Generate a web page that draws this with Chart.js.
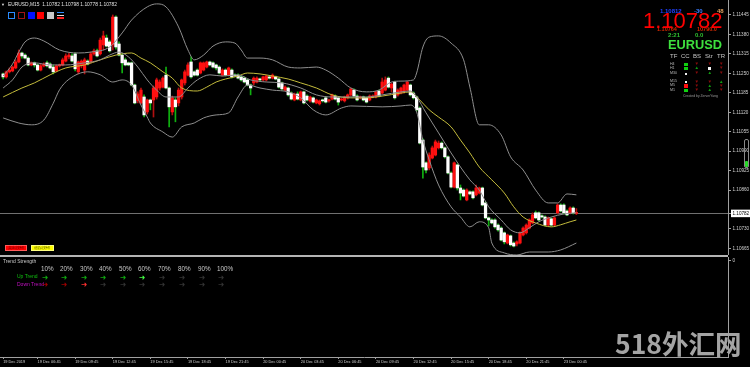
<!DOCTYPE html>
<html><head><meta charset="utf-8">
<script src="https://cdn.jsdelivr.net/npm/chart.js@4/dist/chart.umd.min.js"></script>
<style>
html,body{margin:0;padding:0;background:#000;}
#wrap{position:relative;width:750px;height:367px;overflow:hidden;background:#000;font-family:"Liberation Sans",Arial,sans-serif;}
.t{position:absolute;white-space:nowrap;line-height:1;}
.b{position:absolute;box-sizing:border-box;}
canvas{position:absolute;left:0;}
</style></head><body><div id="wrap">
<canvas id="c1" width="750" height="255" style="top:0"></canvas>
<div class="b" style="left:0;top:255px;width:728px;height:2px;background:#b4b4b4"></div>
<canvas id="c2" width="750" height="110" style="top:257px"></canvas>

<!-- top-left header -->
<div class="t" style="left:1px;top:3px;font-size:4px;color:#ddd">▼</div>
<div class="t" style="left:8px;top:3px;font-size:4.9px;color:#e0e0e0">EURUSD,M15&nbsp; 1.10782 1.10798 1.10778 1.10782</div>
<div class="b" style="left:8px;top:12px;width:7px;height:7px;border:1px solid #2a8cff"></div>
<div class="b" style="left:18px;top:12px;width:7px;height:7px;border:1px solid #a01414"></div>
<div class="b" style="left:28px;top:12px;width:7px;height:7px;background:#0010ff"></div>
<div class="b" style="left:37px;top:12px;width:7px;height:7px;background:#ff0000"></div>
<div class="b" style="left:47px;top:12px;width:7px;height:7px;background:#c8c8c8"></div>
<div class="b" style="left:57px;top:12px;width:7px;height:1px;background:#2a8cff"></div>
<div class="b" style="left:57px;top:15px;width:7px;height:1px;background:#dddddd"></div>
<div class="b" style="left:57px;top:17px;width:7px;height:2px;background:#ff2020"></div>

<!-- top-right panel -->
<div class="t" style="left:660px;top:8px;font-size:6px;font-weight:bold;color:#2040ff">1.10812</div>
<div class="t" style="left:694px;top:8px;font-size:6px;font-weight:bold;color:#3a7cff">-30</div>
<div class="t" style="left:717px;top:8px;font-size:6px;font-weight:bold;color:#e0a060">48</div>
<div class="t" style="left:657px;top:27px;font-size:5.5px;font-weight:bold;color:#d42a00">1.10764</div>
<div class="t" style="left:697px;top:27px;font-size:5.5px;font-weight:bold;color:#d42a00">10790.0</div>
<div class="t" style="left:643px;top:10px;font-size:22px;color:#ff0000;line-height:22px">1.10782</div>
<div class="t" style="left:668px;top:32px;font-size:6px;font-weight:bold;color:#30c030">2:21</div>
<div class="t" style="left:695px;top:32px;font-size:6px;font-weight:bold;color:#30c030">0.0</div>
<div class="t" style="left:668px;top:39px;font-size:12.8px;font-weight:bold;color:#3ee03e">EURUSD</div>
<div class="t" style="left:670px;top:53px;font-size:6px;color:#c8c8c8">TF</div>
<div class="t" style="left:681px;top:53px;font-size:6px;color:#c8c8c8">CC</div>
<div class="t" style="left:693px;top:53px;font-size:6px;color:#c8c8c8">BS</div>
<div class="t" style="left:705px;top:53px;font-size:6px;color:#c8c8c8">Str</div>
<div class="t" style="left:717px;top:53px;font-size:6px;color:#c8c8c8">TR</div>
<div class="t" style="left:683px;top:94.5px;font-size:3.4px;color:#9a9a9a">Created by ZerverYang</div>

<!-- right gauge -->
<div class="b" style="left:744px;top:139px;width:5px;height:29px;border:1px solid #8a8a8a;border-radius:2px"></div>
<div class="b" style="left:745px;top:161px;width:3px;height:6px;background:#28d828;border-radius:1px"></div>

<!-- bottom-left buttons -->
<div class="b" style="left:5px;top:245px;width:22px;height:6px;background:#ff0000;border:1px solid #ff5a5a"></div>
<div class="t" style="left:8px;top:246px;font-size:4px;color:#700000">卖出按钮</div>
<div class="b" style="left:31px;top:245px;width:23px;height:6px;background:#ffff00;border:1px solid #ffff80"></div>
<div class="t" style="left:34px;top:246px;font-size:4px;color:#606000">追踪按钮</div>

<!-- sub window texts -->
<div class="t" style="left:3px;top:259px;font-size:5px;color:#c8c8c8">Trend Strength</div>
<div class="t" style="left:17px;top:274px;font-size:5px;color:#10c010">Up Trend</div>
<div class="t" style="left:17px;top:282px;font-size:5px;color:#c010c0">Down Trend</div>

<!-- watermark -->
<div class="t" style="left:615px;top:327px;font-size:26.5px;line-height:32px;font-weight:bold;color:#a4a4a4;font-family:'Noto Sans CJK SC',sans-serif">518外汇网</div>
</div>
<script>
// ---------------- data ----------------
const barIndex = Array.from({length:184},(_, i)=>i);
const opens = [1.11248,1.11238,1.11255,1.11258,1.11268,1.11288,1.11318,1.11311,1.11301,1.11278,
1.11285,1.11278,1.11261,1.11275,1.11285,1.11281,1.11271,1.11258,1.11275,1.11278,
1.11291,1.11305,1.11308,1.11315,1.11255,1.11275,1.11261,1.11291,1.11288,1.11315,
1.11325,1.11315,1.11345,1.11368,1.11355,1.11345,1.11438,1.11348,1.11311,1.11295,
1.11285,1.11285,1.11211,1.11158,1.11151,1.11171,1.11121,1.11161,1.11161,1.11171,
1.11201,1.11204,1.11244,1.11201,1.11121,1.11161,1.11151,1.11171,1.11218,1.11244,
1.11288,1.11255,1.11261,1.11251,1.11261,1.11271,1.11288,1.11285,1.11278,1.11271,
1.11244,1.11261,1.11244,1.11261,1.11244,1.11244,1.11238,1.11234,1.11228,1.11211,
1.11218,1.11221,1.11231,1.11228,1.11228,1.11238,1.11234,1.11238,1.11231,1.11218,
1.11194,1.11201,1.11184,1.11161,1.11181,1.11161,1.11188,1.11174,1.11158,1.11168,
1.11151,1.11148,1.11161,1.11168,1.11158,1.11164,1.11174,1.11168,1.11161,1.11158,
1.11168,1.11178,1.11194,1.11174,1.11168,1.11171,1.11168,1.11161,1.11171,1.11171,
1.11191,1.11184,1.11194,1.11234,1.11201,1.11221,1.11178,1.11184,1.11188,1.11194,
1.11211,1.11184,1.11171,1.11134,1.11027,1.10951,1.10934,1.10967,1.10977,1.11001,
1.11017,1.11001,1.10971,1.10917,1.10870,1.10944,1.10867,1.10860,1.10827,1.10854,
1.10854,1.10844,1.10850,1.10867,1.10817,1.10767,1.10760,1.10760,1.10743,1.10733,
1.10717,1.10683,1.10707,1.10683,1.10680,1.10683,1.10710,1.10717,1.10733,1.10750,
1.10784,1.10784,1.10774,1.10770,1.10743,1.10764,1.10743,1.10784,1.10810,1.10810,
1.10790,1.10784,1.10800,1.10782];
const highs = [1.11251,1.11258,1.11268,1.11275,1.11295,1.11328,1.11321,1.11315,1.11305,1.11288,
1.11288,1.11281,1.11281,1.11285,1.11291,1.11285,1.11278,1.11278,1.11281,1.11301,
1.11315,1.11318,1.11315,1.11318,1.11291,1.11295,1.11301,1.11295,1.11321,1.11331,
1.11331,1.11368,1.11391,1.11378,1.11361,1.11445,1.11442,1.11355,1.11315,1.11301,
1.11288,1.11288,1.11214,1.11188,1.11201,1.11178,1.11164,1.11164,1.11208,1.11234,
1.11228,1.11238,1.11271,1.11204,1.11174,1.11168,1.11201,1.11231,1.11261,1.11285,
1.11305,1.11258,1.11265,1.11288,1.11288,1.11291,1.11291,1.11288,1.11281,1.11275,
1.11265,1.11265,1.11271,1.11265,1.11248,1.11248,1.11241,1.11238,1.11231,1.11214,
1.11238,1.11238,1.11234,1.11241,1.11244,1.11241,1.11248,1.11241,1.11234,1.11221,
1.11208,1.11204,1.11188,1.11184,1.11188,1.11191,1.11191,1.11178,1.11174,1.11171,
1.11164,1.11161,1.11164,1.11171,1.11164,1.11181,1.11178,1.11171,1.11168,1.11174,
1.11181,1.11201,1.11198,1.11178,1.11174,1.11174,1.11171,1.11178,1.11178,1.11191,
1.11194,1.11234,1.11238,1.11238,1.11218,1.11224,1.11198,1.11204,1.11214,1.11224,
1.11214,1.11188,1.11174,1.11138,1.11031,1.10954,1.10984,1.11007,1.11027,1.11024,
1.11021,1.11004,1.10974,1.10921,1.10954,1.10947,1.10877,1.10864,1.10864,1.10857,
1.10857,1.10877,1.10870,1.10870,1.10820,1.10770,1.10764,1.10764,1.10747,1.10737,
1.10720,1.10713,1.10710,1.10687,1.10690,1.10720,1.10737,1.10747,1.10764,1.10784,
1.10790,1.10787,1.10777,1.10774,1.10770,1.10767,1.10770,1.10814,1.10814,1.10814,
1.10794,1.10804,1.10804,1.10798];
const lows = [1.11231,1.11234,1.11251,1.11255,1.11265,1.11285,1.11301,1.11298,1.11275,1.11275,
1.11271,1.11258,1.11258,1.11271,1.11271,1.11265,1.11248,1.11255,1.11271,1.11275,
1.11288,1.11298,1.11288,1.11258,1.11248,1.11268,1.11248,1.11278,1.11285,1.11311,
1.11305,1.11311,1.11328,1.11338,1.11321,1.11328,1.11331,1.11308,1.11251,1.11275,
1.11275,1.11208,1.11148,1.11151,1.11148,1.11104,1.11114,1.11128,1.11104,1.11164,
1.11194,1.11201,1.11198,1.11071,1.11111,1.11088,1.11141,1.11164,1.11211,1.11241,
1.11234,1.11241,1.11241,1.11248,1.11258,1.11268,1.11275,1.11268,1.11261,1.11248,
1.11241,1.11241,1.11241,1.11234,1.11238,1.11231,1.11224,1.11218,1.11208,1.11178,
1.11211,1.11218,1.11224,1.11224,1.11224,1.11231,1.11231,1.11228,1.11201,1.11194,
1.11191,1.11174,1.11161,1.11158,1.11161,1.11158,1.11148,1.11158,1.11154,1.11151,
1.11148,1.11144,1.11154,1.11151,1.11154,1.11161,1.11161,1.11144,1.11158,1.11154,
1.11164,1.11174,1.11171,1.11158,1.11164,1.11158,1.11151,1.11158,1.11168,1.11168,
1.11171,1.11181,1.11191,1.11201,1.11188,1.11164,1.11174,1.11181,1.11184,1.11191,
1.11174,1.11164,1.11124,1.11014,1.10900,1.10917,1.10927,1.10964,1.10974,1.10997,
1.10997,1.10967,1.10914,1.10867,1.10867,1.10860,1.10827,1.10837,1.10824,1.10844,
1.10830,1.10840,1.10847,1.10807,1.10764,1.10740,1.10747,1.10733,1.10723,1.10690,
1.10680,1.10680,1.10673,1.10670,1.10673,1.10680,1.10707,1.10713,1.10730,1.10747,
1.10764,1.10757,1.10767,1.10740,1.10740,1.10740,1.10740,1.10780,1.10787,1.10780,
1.10774,1.10780,1.10780,1.10778];
const closes = [1.11238,1.11255,1.11261,1.11271,1.11288,1.11318,1.11308,1.11301,1.11278,1.11285,
1.11278,1.11261,1.11275,1.11281,1.11275,1.11268,1.11255,1.11275,1.11278,1.11295,
1.11308,1.11311,1.11291,1.11265,1.11288,1.11291,1.11295,1.11281,1.11315,1.11325,
1.11308,1.11361,1.11375,1.11341,1.11325,1.11438,1.11338,1.11311,1.11285,1.11278,
1.11278,1.11211,1.11151,1.11181,1.11194,1.11111,1.11161,1.11151,1.11201,1.11228,
1.11221,1.11234,1.11201,1.11138,1.11168,1.11138,1.11194,1.11228,1.11255,1.11278,
1.11238,1.11244,1.11244,1.11285,1.11285,1.11288,1.11278,1.11271,1.11268,1.11251,
1.11261,1.11244,1.11268,1.11238,1.11241,1.11234,1.11228,1.11221,1.11211,1.11201,
1.11234,1.11234,1.11228,1.11238,1.11241,1.11234,1.11244,1.11231,1.11204,1.11198,
1.11204,1.11178,1.11164,1.11181,1.11164,1.11188,1.11151,1.11161,1.11171,1.11154,
1.11161,1.11158,1.11158,1.11154,1.11161,1.11178,1.11164,1.11154,1.11164,1.11171,
1.11178,1.11198,1.11174,1.11161,1.11171,1.11161,1.11154,1.11174,1.11174,1.11188,
1.11174,1.11221,1.11228,1.11204,1.11214,1.11168,1.11194,1.11201,1.11211,1.11221,
1.11178,1.11168,1.11128,1.11017,1.10937,1.10927,1.10977,1.11001,1.11021,1.11017,
1.11001,1.10971,1.10917,1.10870,1.10951,1.10867,1.10850,1.10840,1.10860,1.10847,
1.10834,1.10867,1.10867,1.10810,1.10767,1.10760,1.10750,1.10737,1.10727,1.10693,
1.10687,1.10710,1.10677,1.10673,1.10687,1.10717,1.10733,1.10743,1.10760,1.10777,
1.10767,1.10760,1.10770,1.10743,1.10767,1.10743,1.10767,1.10810,1.10790,1.10784,
1.10777,1.10800,1.10784,1.10782];

// Bollinger upper / lower, middle (yellow) and fast MA (gray), read at sampled bars
const upperX = [0,3,5,7,10,13,18,24,28,34,38,41,46,49,52,56,59,61,64,67,71,74,76,78,82,86,91,95,100,103,107,111,116,120,124,127,131,132,134,136,139,143,147,149,152,155,159,162,166,170,174,177,180,183];
const upperY = [1.11241,1.11281,1.11321,1.11355,1.11368,1.11358,1.11328,1.11318,1.11321,1.11338,1.11385,1.11428,1.11472,1.11482,1.11472,1.11405,1.11328,1.11295,1.11311,1.11341,1.11355,1.11351,1.11328,1.11301,1.11301,1.11295,1.11271,1.11268,1.11271,1.11261,1.11234,1.11201,1.11188,1.11194,1.11221,1.11224,1.11228,1.11251,1.11338,1.11371,1.11375,1.11351,1.11295,1.11204,1.11078,1.11078,1.11044,1.10971,1.10927,1.10860,1.10817,1.10817,1.10847,1.10844];
const lowerX = [0,5,9,13,16,18,21,27,31,35,38,41,44,46,47,51,54,57,61,64,68,72,75,78,82,86,91,95,99,103,108,111,121,127,130,132,134,136,139,143,146,149,152,155,156,160,164,168,174,178,183];
const lowerY = [1.11101,1.11084,1.11078,1.11094,1.11150,1.11195,1.11230,1.11255,1.11245,1.11221,1.11228,1.11211,1.11144,1.11104,1.11084,1.11054,1.11037,1.11071,1.11084,1.11101,1.11111,1.11118,1.11171,1.11211,1.11201,1.11194,1.11188,1.11168,1.11128,1.11111,1.11134,1.11141,1.11138,1.11141,1.11144,1.11121,1.11027,1.10961,1.10877,1.10804,1.10770,1.10737,1.10754,1.10734,1.10683,1.10650,1.10643,1.10653,1.10653,1.10660,1.10683];
const middleX = [0,6,10,15,20,26,31,36,41,44,47,51,54,57,62,65,68,71,75,78,82,86,91,95,100,105,111,116,121,127,130,133,136,139,143,146,149,152,156,160,163,166,170,175,178,181,183];
const middleY = [1.11171,1.11201,1.11218,1.11245,1.11268,1.11278,1.11295,1.11311,1.11318,1.11301,1.11285,1.11255,1.11234,1.11201,1.11191,1.11204,1.11221,1.11231,1.11241,1.11251,1.11248,1.11241,1.11231,1.11218,1.11201,1.11178,1.11168,1.11168,1.11174,1.11184,1.11188,1.11161,1.11128,1.11104,1.11071,1.11027,1.10984,1.10937,1.10894,1.10850,1.10804,1.10770,1.10750,1.10737,1.10744,1.10754,1.10760];
const fastX = [0,3,6,10,15,20,26,31,34,37,40,43,46,49,52,56,59,62,66,70,75,79,84,89,95,100,105,111,116,121,127,130,132,135,139,143,146,149,152,155,159,162,165,168,171,175,179,183];
const fastY = [1.11201,1.11228,1.11271,1.11285,1.11278,1.11278,1.11285,1.11295,1.11311,1.11321,1.11305,1.11271,1.11228,1.11194,1.11171,1.11171,1.11201,1.11228,1.11245,1.11241,1.11245,1.11228,1.11221,1.11218,1.11201,1.11178,1.11171,1.11171,1.11171,1.11178,1.11188,1.11191,1.11171,1.11118,1.11051,1.10984,1.10937,1.10894,1.10860,1.10804,1.10760,1.10727,1.10717,1.10734,1.10754,1.10770,1.10780,1.10784];

const bidPrice = 1.10782;
const yTickValues = [1.11445,1.11380,1.11315,1.11250,1.11185,1.11120,1.11055,1.10990,1.10925,1.10860,1.10730,1.10665];
const timeTickIndex = [0,11,23,35,47,59,71,83,95,107,119,131,143,155,167,179];
const timeTickLabels = ['19 Dec 2019','19 Dec 06:45','19 Dec 09:45','19 Dec 12:45','19 Dec 15:45','19 Dec 18:45','19 Dec 21:45','20 Dec 00:45','20 Dec 03:45','20 Dec 06:45','20 Dec 09:45','20 Dec 12:45','20 Dec 15:45','20 Dec 18:45','20 Dec 21:45','23 Dec 00:45'];

const strengthLabels = ['10%','20%','30%','40%','50%','60%','70%','80%','90%','100%'];
const upTrendLevel = 6;   // arrows lit in the up row
const downTrendLevel = 3; // arrows lit in the down row

const tfRows = ['H4','H1','M30','M15','M5','M1'];
const ccCol  = ['g','g','w','w','r','g'];
const bsCol  = ['d','u','d','d','d','d'];
const strCol = ['d','s','u','d','u','u'];
const trCol  = ['d','d','d','u','d','d'];

// ---------------- overlays ----------------
(function(){
  const wrap = document.getElementById('wrap');
  const rowTop = [62.5,66.8,71.8,80.3,84.3,88.6];
  function add(html){ wrap.insertAdjacentHTML('beforeend', html); }
  tfRows.forEach((r,k)=>{
    const top = rowTop[k];
    add(`<div class="t" style="left:670px;top:${top}px;font-size:3.6px;color:#b8b8b8">${r}</div>`);
    const c = ccCol[k];
    if (c==='g') add(`<div class="b" style="left:684px;top:${top}px;width:3.5px;height:3.5px;background:#10d010"></div>`);
    else if (c==='r') add(`<div class="b" style="left:684px;top:${top}px;width:3.5px;height:3.5px;background:#ff1010"></div>`);
    else add(`<div class="b" style="left:684.8px;top:${top+0.8}px;width:2px;height:2px;background:#f0f0f0"></div>`);
    [[bsCol,695],[strCol,708],[trCol,719.5]].forEach(([col,x])=>{
      const v = col[k];
      if (v==='s') add(`<div class="b" style="left:${x}px;top:${top+0.5}px;width:2.5px;height:2.5px;background:#f4f4f4"></div>`);
      else {
        const ch = v==='u' ? '▲' : '▼';
        const clr = v==='u' ? '#10a010' : '#8c0c0c';
        add(`<div class="t" style="left:${x-0.5}px;top:${top-0.5}px;font-size:4.5px;color:${clr}">${ch}</div>`);
      }
    });
  });
  const px = [41,60,80,99,119,138,158,178,198,217];
  strengthLabels.forEach((s,k)=>{
    add(`<div class="t" style="left:${px[k]}px;top:266px;font-size:6.3px;color:#c8c8c8">${s}</div>`);
    const upC = k < upTrendLevel ? (k===upTrendLevel-1 ? '#44ff44' : '#10a810') : '#333333';
    const dnC = k < downTrendLevel ? (k===downTrendLevel-1 ? '#ff3030' : '#a00000') : '#333333';
    add(`<div class="t" style="left:${px[k]+1}px;top:273.5px;font-size:7.5px;font-weight:bold;font-family:'DejaVu Sans';color:${upC}">➜</div>`);
    add(`<div class="t" style="left:${px[k]+1}px;top:281px;font-size:7.5px;font-weight:bold;font-family:'DejaVu Sans';color:${dnC}">➜</div>`);
  });
})();

// ---------------- charts ----------------
Chart.defaults.font.family = "'Liberation Sans', Arial, sans-serif";
const BULL='#ff1010', BEAR='#ffffff', BULLW='#b01010', BEARW='#10b010', GRAY='#8e8e8e', AXIS='#a0a0a0';
const isBull = i => closes[i] >= opens[i];
const pts = (xs, ys) => xs.map((x,k)=>({x:x, y:ys[k]}));
const lineDs = (label, data, color) => ({type:'line', label, data, borderColor:color, borderWidth:1, pointRadius:0, cubicInterpolationMode:'monotone', order:1});

new Chart(document.getElementById('c1'), {
  type:'bar',
  data:{datasets:[
    lineDs('Upper band', pts(upperX, upperY), GRAY),
    lineDs('Lower band', pts(lowerX, lowerY), GRAY),
    lineDs('Fast MA', pts(fastX, fastY), GRAY),
    lineDs('Middle band', pts(middleX, middleY), '#c4bc3c'),
    {label:'Wicks', data: barIndex.map(i=>({x:i, y:[lows[i], highs[i]]})), grouped:false, barThickness:1,
     backgroundColor: c => isBull(c.dataIndex) ? BULLW : BEARW, order:3},
    {label:'Bodies', data: barIndex.map(i=>({x:i, y:[opens[i], closes[i]]})), grouped:false, barThickness:2.6, minBarLength:1,
     backgroundColor: c => isBull(c.dataIndex) ? BULL : BEAR, order:2}
  ]},
  options:{
    responsive:false, animation:false, events:[],
    layout:{padding:0},
    plugins:{legend:{display:false}, tooltip:{enabled:false}},
    scales:{
      x:{type:'linear', min:-1, max:231.4, display:false, offset:false},
      y:{position:'right', min:1.10643, max:1.11495,
        afterBuildTicks: s => { s.ticks = yTickValues.concat([bidPrice]).map(v=>({value:v})); },
        afterFit: s => { s.width = 22; s.paddingTop = 0; s.paddingBottom = 0; },
        ticks:{ font:{size:4.6}, padding:1.5, callback: v => v.toFixed(5),
          color: c => c.tick.value === bidPrice ? '#000000' : '#d0d0d0',
          showLabelBackdrop: c => c.tick.value === bidPrice,
          backdropColor: c => c.tick.value === bidPrice ? '#ffffff' : 'rgba(0,0,0,0)',
          backdropPadding:{x:1.5, y:1} },
        grid:{ drawOnChartArea:true, tickLength:3,
          color: c => (c.tick && c.tick.value === bidPrice) ? '#707070' : 'rgba(0,0,0,0)',
          tickColor: AXIS },
        border:{display:true, color:AXIS, width:1}
      }
    }
  }
});

new Chart(document.getElementById('c2'), {
  type:'line',
  data:{datasets:[]},
  options:{
    responsive:false, animation:false, events:[],
    layout:{padding:0},
    plugins:{legend:{display:false}, tooltip:{enabled:false}},
    scales:{
      x:{type:'linear', min:-1, max:231.4, offset:false,
        afterBuildTicks: s => { s.ticks = timeTickIndex.map(v=>({value:v})); },
        afterFit: s => { s.height = 10; s.paddingLeft = 0; s.paddingRight = 0; },
        ticks:{ callback: (v,i) => timeTickLabels[i], align:'start', maxRotation:0, minRotation:0, autoSkip:false,
          color:'#d0d0d0', font:{size:3.9}, padding:1 },
        grid:{ drawOnChartArea:false, tickLength:2, color:AXIS },
        border:{display:true, color:AXIS}
      },
      y:{position:'right', min:-10, max:0.35,
        afterBuildTicks: s => { s.ticks = [{value:0}]; },
        afterFit: s => { s.width = 22; s.paddingTop = 0; s.paddingBottom = 0; },
        ticks:{ callback: () => '0', color:'#d0d0d0', font:{size:4.6}, padding:1.5 },
        grid:{ drawOnChartArea:false, tickLength:3, color:AXIS },
        border:{display:true, color:AXIS}
      }
    }
  }
});
</script></body></html>
